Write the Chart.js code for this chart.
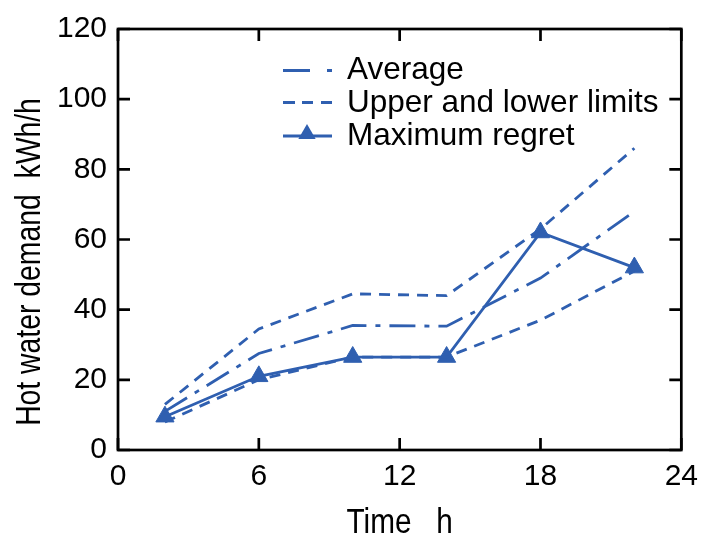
<!DOCTYPE html>
<html><head><meta charset="utf-8">
<script src="https://cdn.jsdelivr.net/npm/chart.js@4/dist/chart.umd.min.js"></script>
<style>html,body{margin:0;padding:0;background:#fff}canvas{display:block}</style>
</head><body>
<canvas id="c" width="707" height="537"></canvas>
<script>
const hours = [2, 6, 10, 14, 18, 22];
const averageDemand = [11, 27.5, 35.5, 35.3, 49, 68];
const upperLimit = [13, 34.5, 44.5, 44, 63, 86];
const lowerLimit = [8, 20, 26.5, 26.5, 37, 51];
const maxRegret = [9.5, 21, 26.5, 26.5, 62, 52];
const xTicks = [0, 6, 12, 18, 24];
const yTicks = [0, 20, 40, 60, 80, 100, 120];
const legendLabels = ['Average', 'Upper and lower limits', 'Maximum regret'];
const xTitle = 'Time   h';
const yTitle = 'Hot water demand  kWh/h';

const BLUE = '#2f5fb0';
const FONT = '"Liberation Sans", Arial, sans-serif';
const pts = arr => hours.map((h, i) => ({x: h, y: arr[i]}));
const AVG_DASH = [26, 9, 5, 9];
const LIM_DASH = [11, 8];
const LW = 2.8;

const frame = {
  id: 'frame',
  afterDraw(chart) {
    const {ctx, chartArea: a, scales: {x, y}} = chart;
    ctx.save();
    ctx.strokeStyle = '#000';
    ctx.lineWidth = 2.7;
    ctx.strokeRect(a.left, a.top, a.right - a.left, a.bottom - a.top);
    const L = 12;
    ctx.beginPath();
    xTicks.forEach(v => {
      const px = x.getPixelForValue(v);
      ctx.moveTo(px, a.bottom); ctx.lineTo(px, a.bottom - L);
      ctx.moveTo(px, a.top); ctx.lineTo(px, a.top + L);
    });
    yTicks.forEach(v => {
      const py = y.getPixelForValue(v);
      ctx.moveTo(a.left, py); ctx.lineTo(a.left + L, py);
      ctx.moveTo(a.right, py); ctx.lineTo(a.right - L, py);
    });
    ctx.stroke();
    // legend
    const lx0 = 283, lx1 = 332, tx = 347, rows = [70.5, 102.5, 136], bases = [78.5, 111.5, 145];
    ctx.strokeStyle = BLUE; ctx.lineWidth = LW; ctx.lineCap = 'butt';
    ctx.beginPath(); ctx.moveTo(283, rows[0]); ctx.lineTo(310, rows[0]);
    ctx.moveTo(327, rows[0]); ctx.lineTo(332, rows[0]); ctx.stroke();
    ctx.beginPath();
    [[283, 295], [302, 313], [321, 332]].forEach(([s, e]) => { ctx.moveTo(s, rows[1]); ctx.lineTo(e, rows[1]); });
    ctx.stroke();
    ctx.beginPath(); ctx.moveTo(lx0, rows[2]); ctx.lineTo(lx1, rows[2]); ctx.stroke();
    ctx.fillStyle = BLUE;
    const cx = 307, cy = rows[2] - 2, r = 10;
    ctx.beginPath();
    ctx.moveTo(cx, cy - r); ctx.lineTo(cx + r * 0.866, cy + r * 0.5); ctx.lineTo(cx - r * 0.866, cy + r * 0.5);
    ctx.closePath(); ctx.fill();
    ctx.fillStyle = '#000';
    ctx.font = '31.5px ' + FONT;
    ctx.textBaseline = 'alphabetic';
    ctx.textAlign = 'left';
    legendLabels.forEach((t, i) => ctx.fillText(t, tx, bases[i]));
    // axis titles (condensed glyphs)
    ctx.font = '35px ' + FONT;
    ctx.textAlign = 'center';
    ctx.save();
    ctx.translate((a.left + a.right) / 2, 533);
    ctx.scale(0.85, 1);
    ctx.fillText(xTitle, 0, 0);
    ctx.restore();
    ctx.save();
    ctx.translate(40, 262);
    ctx.rotate(-Math.PI / 2);
    ctx.scale(0.81, 1);
    ctx.fillText(yTitle, 0, 0);
    ctx.restore();
    ctx.restore();
  }
};

new Chart(document.getElementById('c'), {
  type: 'line',
  data: {
    datasets: [
      {label: legendLabels[0], data: pts(averageDemand), borderColor: BLUE, borderWidth: LW, borderDash: AVG_DASH, pointRadius: 0, fill: false},
      {label: legendLabels[1], data: pts(upperLimit), borderColor: BLUE, borderWidth: LW, borderDash: LIM_DASH, pointRadius: 0, fill: false},
      {label: 'Lower limit', data: pts(lowerLimit), borderColor: BLUE, borderWidth: LW, borderDash: LIM_DASH, pointRadius: 0, fill: false},
      {label: legendLabels[2], data: pts(maxRegret), borderColor: BLUE, borderWidth: LW, pointStyle: 'triangle', pointRadius: 10.5, pointBorderWidth: 1, pointBackgroundColor: BLUE, pointBorderColor: BLUE, fill: false}
    ]
  },
  options: {
    responsive: false,
    animation: false,
    layout: {padding: {top: 24, right: 21, left: 0, bottom: 0}},
    plugins: {legend: {display: false}, tooltip: {enabled: false}},
    scales: {
      x: {
        type: 'linear', min: 0, max: 24,
        afterBuildTicks: s => { s.ticks = xTicks.map(v => ({value: v})); },
        afterFit: s => { s.height = 87; },
        grid: {display: false, drawTicks: false},
        border: {display: false},
        ticks: {color: '#000', font: {family: FONT, size: 30}, padding: 9},
        title: {display: false, text: xTitle}
      },
      y: {
        type: 'linear', min: 0, max: 120,
        afterBuildTicks: s => { s.ticks = yTicks.map(v => ({value: v})); },
        afterFit: s => { s.width = 118; },
        grid: {display: false, drawTicks: false},
        border: {display: false},
        ticks: {color: '#000', font: {family: FONT, size: 30}, padding: 11},
        title: {display: false, text: yTitle}
      }
    }
  },
  plugins: [frame]
});
</script>
</body></html>
